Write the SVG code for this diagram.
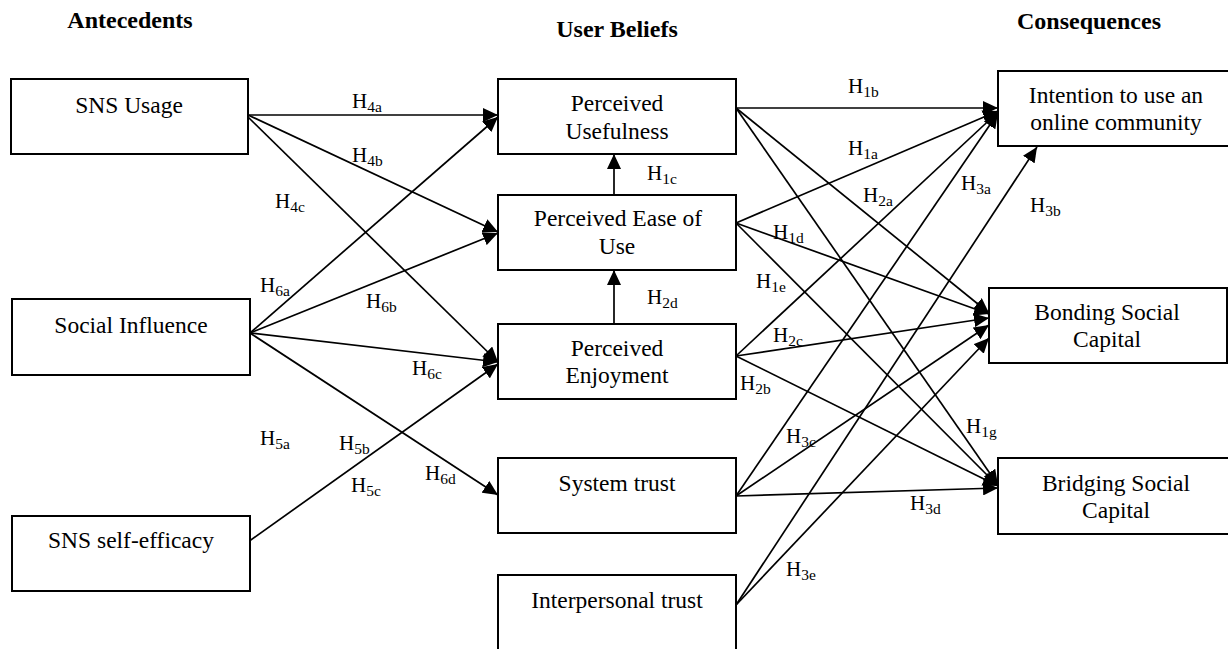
<svg xmlns="http://www.w3.org/2000/svg" width="1228" height="649" viewBox="0 0 1228 649">
<style>
.box{fill:#fff;stroke:#000;stroke-width:2}
.nt{font-family:"Liberation Serif","Times New Roman",serif;font-size:23.5px;fill:#000;text-anchor:middle}
.tt{font-family:"Liberation Serif","Times New Roman",serif;font-size:24px;font-weight:bold;fill:#000;text-anchor:middle}
.lb{font-family:"Liberation Serif","Times New Roman",serif;font-size:21px;fill:#000}
.sb{font-size:15.5px}
.cn line{stroke:#000;stroke-width:1.7;marker-end:url(#ah)}
</style>
<defs>
<marker id="ah" markerUnits="userSpaceOnUse" markerWidth="16" markerHeight="14" refX="15" refY="7" orient="auto" viewBox="0 0 16 14">
<path d="M0,0 L15,7 L0,14 z" fill="#000"/>
</marker>
</defs>
<rect width="1228" height="649" fill="#fff"/>
<g id="titles">
<text class="tt" x="130" y="28">Antecedents</text>
<text class="tt" x="617" y="37">User Beliefs</text>
<text class="tt" x="1089" y="29">Consequences</text>
</g>
<g id="connectors" class="cn">
<line x1="248" y1="115" x2="498" y2="115"/>
<line x1="248" y1="115" x2="498" y2="232"/>
<line x1="248" y1="117" x2="498" y2="362"/>
<line x1="250" y1="333" x2="498" y2="117"/>
<line x1="250" y1="333" x2="498" y2="233"/>
<line x1="250" y1="333" x2="498" y2="362"/>
<line x1="250" y1="333" x2="498" y2="495"/>
<line x1="248" y1="542" x2="498" y2="364"/>
<line x1="614" y1="195" x2="614" y2="154"/>
<line x1="614" y1="324" x2="614" y2="270"/>
<line x1="736" y1="108" x2="998" y2="108"/>
<line x1="736" y1="108" x2="989" y2="313"/>
<line x1="736" y1="108" x2="998" y2="485"/>
<line x1="736" y1="223" x2="998" y2="111"/>
<line x1="736" y1="223" x2="989" y2="314"/>
<line x1="736" y1="223" x2="998" y2="486"/>
<line x1="736" y1="356" x2="998" y2="112"/>
<line x1="736" y1="356" x2="989" y2="318"/>
<line x1="736" y1="356" x2="998" y2="486"/>
<line x1="736" y1="496" x2="998" y2="113"/>
<line x1="736" y1="496" x2="989" y2="325"/>
<line x1="736" y1="496" x2="998" y2="488"/>
<line x1="736" y1="605" x2="1037" y2="147"/>
<line x1="736" y1="605" x2="989" y2="338"/>
</g>
<g id="labels">
<text class="lb" x="352" y="108">H<tspan class="sb" dy="4">4a</tspan></text>
<text class="lb" x="352" y="162">H<tspan class="sb" dy="4">4b</tspan></text>
<text class="lb" x="275" y="208">H<tspan class="sb" dy="4">4c</tspan></text>
<text class="lb" x="260" y="292">H<tspan class="sb" dy="4">6a</tspan></text>
<text class="lb" x="366" y="308">H<tspan class="sb" dy="4">6b</tspan></text>
<text class="lb" x="412" y="375">H<tspan class="sb" dy="4">6c</tspan></text>
<text class="lb" x="260" y="445">H<tspan class="sb" dy="4">5a</tspan></text>
<text class="lb" x="339" y="450">H<tspan class="sb" dy="4">5b</tspan></text>
<text class="lb" x="351" y="492">H<tspan class="sb" dy="4">5c</tspan></text>
<text class="lb" x="425" y="480">H<tspan class="sb" dy="4">6d</tspan></text>
<text class="lb" x="647" y="180">H<tspan class="sb" dy="4">1c</tspan></text>
<text class="lb" x="647" y="304">H<tspan class="sb" dy="4">2d</tspan></text>
<text class="lb" x="848" y="93">H<tspan class="sb" dy="4">1b</tspan></text>
<text class="lb" x="848" y="155">H<tspan class="sb" dy="4">1a</tspan></text>
<text class="lb" x="863" y="202">H<tspan class="sb" dy="4">2a</tspan></text>
<text class="lb" x="961" y="190">H<tspan class="sb" dy="4">3a</tspan></text>
<text class="lb" x="1030" y="212">H<tspan class="sb" dy="4">3b</tspan></text>
<text class="lb" x="773" y="239">H<tspan class="sb" dy="4">1d</tspan></text>
<text class="lb" x="756" y="288">H<tspan class="sb" dy="4">1e</tspan></text>
<text class="lb" x="773" y="342">H<tspan class="sb" dy="4">2c</tspan></text>
<text class="lb" x="740" y="390">H<tspan class="sb" dy="4">2b</tspan></text>
<text class="lb" x="786" y="443">H<tspan class="sb" dy="4">3c</tspan></text>
<text class="lb" x="966" y="433">H<tspan class="sb" dy="4">1g</tspan></text>
<text class="lb" x="910" y="510">H<tspan class="sb" dy="4">3d</tspan></text>
<text class="lb" x="786" y="576">H<tspan class="sb" dy="4">3e</tspan></text>
</g>
<g id="sns-usage"><rect class="box" x="11" y="79" width="237" height="75"/><text class="nt" x="129" y="113">SNS Usage</text></g>
<g id="social-influence"><rect class="box" x="12" y="299" width="238" height="76"/><text class="nt" x="131" y="333">Social Influence</text></g>
<g id="sns-self-efficacy"><rect class="box" x="12" y="516" width="238" height="75"/><text class="nt" x="131" y="548">SNS self-efficacy</text></g>
<g id="perceived-usefulness"><rect class="box" x="498" y="79" width="238" height="75"/><text class="nt" x="617" y="111">Perceived</text><text class="nt" x="617" y="139">Usefulness</text></g>
<g id="perceived-ease"><rect class="box" x="498" y="195" width="238" height="75"/><text class="nt" x="618" y="226">Perceived Ease of</text><text class="nt" x="617" y="254">Use</text></g>
<g id="perceived-enjoyment"><rect class="box" x="498" y="324" width="238" height="75"/><text class="nt" x="617" y="356">Perceived</text><text class="nt" x="617" y="383">Enjoyment</text></g>
<g id="system-trust"><rect class="box" x="498" y="458" width="238" height="75"/><text class="nt" x="617" y="491">System trust</text></g>
<g id="interpersonal-trust"><rect class="box" x="498" y="575" width="238" height="80"/><text class="nt" x="617" y="608">Interpersonal trust</text></g>
<g id="intention"><rect class="box" x="998" y="71" width="240" height="75"/><text class="nt" x="1116" y="103">Intention to use an</text><text class="nt" x="1116" y="130">online community</text></g>
<g id="bonding"><rect class="box" x="989" y="288" width="238" height="75"/><text class="nt" x="1107" y="320">Bonding Social</text><text class="nt" x="1107" y="347">Capital</text></g>
<g id="bridging"><rect class="box" x="998" y="458" width="240" height="76"/><text class="nt" x="1116" y="491">Bridging Social</text><text class="nt" x="1116" y="518">Capital</text></g>
</svg>
